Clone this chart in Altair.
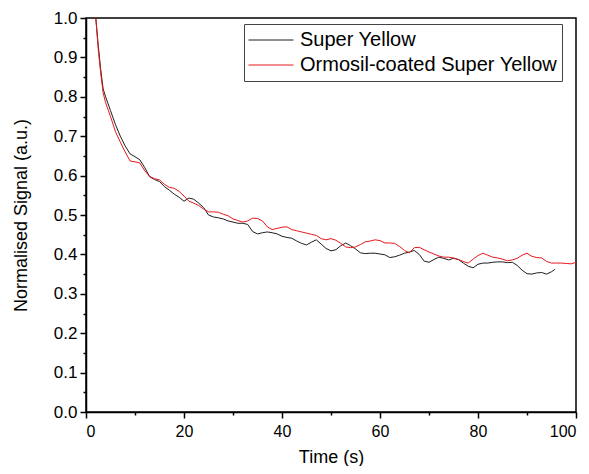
import altair as alt
import pandas as pd

# ---- data ----
series_names = ["Super Yellow", "Ormosil-coated Super Yellow"]
series_colors = ["#1e1e1e", "#e8161b"]

t_sy = [2, 2.5, 3, 3.5, 4, 5, 6, 7, 8, 9, 10, 11, 12, 13, 14, 15, 16, 17, 18, 19,
        20, 21, 22, 23, 24, 25, 26, 27, 28, 29, 30, 31, 32, 33, 34, 35, 36, 37, 38, 39,
        40, 41, 42, 43, 44, 45, 46, 47, 48, 49, 50, 51, 52, 53, 54, 55, 56, 57, 58, 59,
        60, 61, 62, 63, 64, 65, 66, 67, 68, 69, 70, 71, 72, 73, 74, 75, 76, 77, 78, 79,
        80, 81, 82, 83, 84, 85, 86, 87, 88, 89, 90, 91, 92, 93, 94, 95, 95.7]
v_sy = [1.0, 0.93, 0.87, 0.82, 0.80, 0.765, 0.73, 0.70, 0.675, 0.655, 0.648, 0.64, 0.62, 0.597, 0.59, 0.585, 0.572, 0.563, 0.553, 0.545,
        0.535, 0.543, 0.54, 0.53, 0.519, 0.50, 0.495, 0.493, 0.49, 0.485, 0.482, 0.479, 0.479, 0.476, 0.458, 0.452, 0.455, 0.457, 0.455, 0.452,
        0.446, 0.443, 0.441, 0.434, 0.428, 0.424, 0.431, 0.437, 0.426, 0.415, 0.409, 0.412, 0.422, 0.429, 0.422, 0.414, 0.404, 0.402, 0.403, 0.403,
        0.401, 0.399, 0.392, 0.394, 0.398, 0.403, 0.406, 0.41, 0.40, 0.383, 0.38, 0.387, 0.393, 0.39, 0.386, 0.39, 0.387, 0.378, 0.37, 0.366,
        0.375, 0.378, 0.378, 0.38, 0.381, 0.381, 0.379, 0.38, 0.372, 0.36, 0.351, 0.35, 0.353, 0.354, 0.35, 0.356, 0.362]

t_or = [2, 2.5, 3, 3.5, 4, 5, 6, 7, 8, 9, 10, 11, 12, 13, 14, 15, 16, 17, 18, 19,
        20, 21, 22, 23, 24, 25, 26, 27, 28, 29, 30, 31, 32, 33, 34, 35, 36, 37, 38, 39,
        40, 41, 42, 43, 44, 45, 46, 47, 48, 49, 50, 51, 52, 53, 54, 55, 56, 57, 58, 59,
        60, 61, 62, 63, 64, 65, 66, 67, 68, 69, 70, 71, 72, 73, 74, 75, 76, 77, 78, 79,
        80, 81, 82, 83, 84, 85, 86, 87, 88, 89, 90, 91, 92, 93, 94, 95, 96, 97, 98, 99, 100]
v_or = [1.0, 0.92, 0.86, 0.81, 0.785, 0.75, 0.712, 0.685, 0.66, 0.637, 0.635, 0.632, 0.612, 0.598, 0.592, 0.589, 0.578, 0.57, 0.568, 0.56,
        0.548, 0.535, 0.53, 0.524, 0.515, 0.508, 0.508, 0.507, 0.502, 0.498, 0.49, 0.486, 0.482, 0.485, 0.492, 0.491, 0.485, 0.47, 0.463, 0.466,
        0.469, 0.47, 0.463, 0.46, 0.457, 0.454, 0.451, 0.448, 0.44, 0.437, 0.44, 0.436, 0.428, 0.419, 0.417, 0.419, 0.425, 0.432, 0.434, 0.437,
        0.435, 0.429, 0.429, 0.428, 0.42, 0.41, 0.404, 0.417, 0.418, 0.412, 0.406, 0.401, 0.396, 0.393, 0.393, 0.391, 0.387, 0.382, 0.378, 0.388,
        0.397, 0.403, 0.398, 0.393, 0.391, 0.388, 0.384, 0.386, 0.39, 0.398, 0.403, 0.395, 0.392, 0.391, 0.382, 0.378, 0.378, 0.378, 0.377, 0.376, 0.38]

x_major = [0, 20, 40, 60, 80, 100]
x_minor = [10, 30, 50, 70, 90]
y_major = [0.0, 0.1, 0.2, 0.3, 0.4, 0.5, 0.6, 0.7, 0.8, 0.9, 1.0]
y_minor = [0.05, 0.15, 0.25, 0.35, 0.45, 0.55, 0.65, 0.75, 0.85, 0.95]

df = pd.concat([
    pd.DataFrame({"t": t_sy, "v": v_sy, "series": series_names[0], "k": 0}),
    pd.DataFrame({"t": t_or, "v": v_or, "series": series_names[1], "k": 1}),
])

FONT = "Liberation Sans"
x_scale = alt.Scale(domain=[0, 100], nice=False, zero=False)
y_scale = alt.Scale(domain=[0, 1], nice=False)

common_axis = dict(domainColor="black", domainWidth=1.5, tickColor="black", tickWidth=1.5,
                   labelFont=FONT, labelColor="black", grid=False,
                   titleFont=FONT, titleColor="black", titleFontWeight="normal")

lines = alt.Chart(df).mark_line(strokeWidth=1, clip=True).encode(
    x=alt.X("t:Q", scale=x_scale,
            axis=alt.Axis(values=x_major, format="d", title="Time (s)", orient="bottom",
                          tickSize=6, labelFontSize=16, labelPadding=5,
                          titleFontSize=18, titlePadding=9, **common_axis)),
    y=alt.Y("v:Q", scale=y_scale,
            axis=alt.Axis(values=y_major, format=".1f", title="Normalised Signal (a.u.)", orient="left",
                          tickSize=6, labelFontSize=17, labelPadding=3,
                          titleFontSize=18, titlePadding=23, **common_axis)),
    color=alt.Color("series:N",
                    scale=alt.Scale(domain=series_names, range=series_colors),
                    legend=alt.Legend(title=None, orient="none", legendX=158, legendY=6,
                                      symbolType="stroke", symbolSize=2025, symbolStrokeWidth=1,
                                      clipHeight=24, labelLimit=0,
                                      labelFont=FONT, labelFontSize=20, labelColor="black",
                                      labelOffset=6, rowPadding=1, padding=4,
                                      strokeColor="#444", fillColor="white", cornerRadius=0)),
    order=alt.Order("k:Q"),
)

minor = alt.Chart(df).mark_line(opacity=0).encode(
    x=alt.X("t:Q", scale=x_scale,
            axis=alt.Axis(values=x_minor, labels=False, title=None, orient="bottom", domain=False,
                          tickSize=3, tickColor="black", tickWidth=1.5, grid=False)),
    y=alt.Y("v:Q", scale=y_scale,
            axis=alt.Axis(values=y_minor, labels=False, title=None, orient="left", domain=False,
                          tickSize=3, tickColor="black", tickWidth=1.5, grid=False)),
)

chart = alt.layer(lines, minor).resolve_axis(x="independent", y="independent").properties(
    width=490, height=394,
    autosize=alt.AutoSizeParams(type="none"),
    padding={"left": 78, "top": 10, "right": 5, "bottom": 54},
    background="white",
).configure_view(stroke="black", strokeWidth=1.5)

chart.save("out.html", embed_options={"renderer": "svg", "actions": False})
